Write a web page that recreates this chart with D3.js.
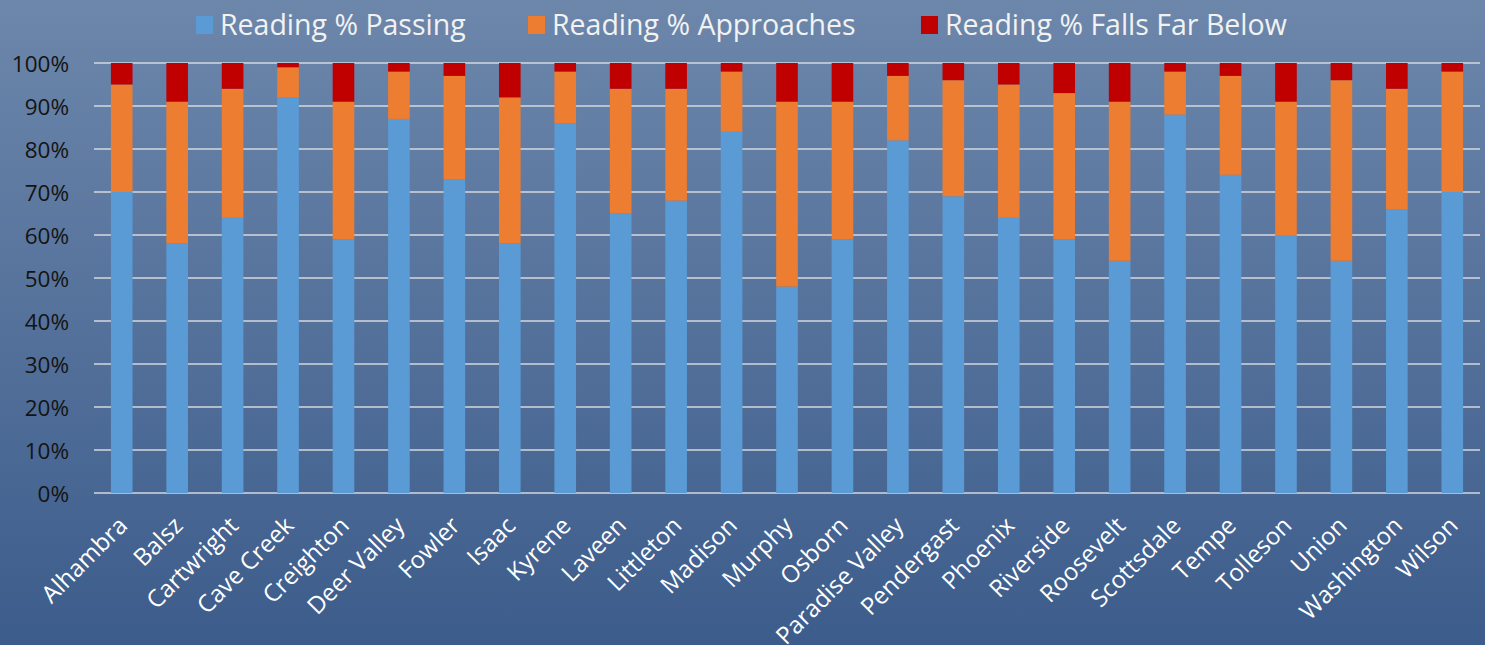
<!DOCTYPE html>
<html lang="en">
<head>
  <meta charset="UTF-8">
  <title>Reading Proficiency by District</title>
  <script src="https://d3js.org/d3.v7.min.js"></script>
  <style>
    body {
      margin: 0;
      font-family: "Open Sans", sans-serif;
    }

    svg {
      display: block;
    }

    .grid line {
      stroke: #d4d8de;
      stroke-width: 1.5px;
    }

    .axis text {
      font-family: "Open Sans", sans-serif;
    }

    .y.axis text {
      fill: #141414;
      font-size: 22.5px;
    }

    .x.axis text {
      fill: #ffffff;
      font-size: 24px;
    }

    .legend text {
      fill: #f2f2f2;
      font-size: 28.5px;
    }
  </style>
</head>
<body>
  <div id="chart"></div>
  <script>
    const districts = ["Alhambra", "Balsz", "Cartwright", "Cave Creek", "Creighton", "Deer Valley",
      "Fowler", "Isaac", "Kyrene", "Laveen", "Littleton", "Madison", "Murphy", "Osborn",
      "Paradise Valley", "Pendergast", "Phoenix", "Riverside", "Roosevelt", "Scottsdale",
      "Tempe", "Tolleson", "Union", "Washington", "Wilson"];

    const passing    = [70, 58, 64, 92, 59, 87, 73, 58, 86, 65, 68, 84, 48, 59, 82, 69, 64, 59, 54, 88, 74, 60, 54, 66, 70];
    const approaches = [25, 33, 30,  7, 32, 11, 24, 34, 12, 29, 26, 14, 43, 32, 15, 27, 31, 34, 37, 10, 23, 31, 42, 28, 28];
    const fallsBelow = [ 5,  9,  6,  1,  9,  2,  3,  8,  2,  6,  6,  2,  9,  9,  3,  4,  5,  7,  9,  2,  3,  9,  4,  6,  2];

    const seriesNames = ["Reading % Passing", "Reading % Approaches", "Reading % Falls Far Below"];
    const seriesColors = ["#5b9bd5", "#ed7d31", "#c00000"];
    const yTicks = [0, 0.1, 0.2, 0.3, 0.4, 0.5, 0.6, 0.7, 0.8, 0.9, 1];

    const width = 1485,
          height = 645,
          margin = { top: 63, right: 5, bottom: 152, left: 94 };

    const svg = d3.select("#chart")
      .append("svg")
      .attr("width", width)
      .attr("height", height);

    // background gradient
    const defs = svg.append("defs");
    const bg = defs.append("linearGradient")
      .attr("id", "bg-gradient")
      .attr("x1", "0%").attr("y1", "0%")
      .attr("x2", "0%").attr("y2", "100%");
    bg.append("stop").attr("offset", "0%").attr("stop-color", "#6d87ab");
    bg.append("stop").attr("offset", "100%").attr("stop-color", "#3c5c8b");

    svg.append("rect")
      .attr("width", width)
      .attr("height", height)
      .style("fill", "url(#bg-gradient)");

    const rows = districts.map((name, i) => ({
      name: name,
      passing: passing[i] / 100,
      approaches: approaches[i] / 100,
      falls: fallsBelow[i] / 100
    }));

    const keys = ["passing", "approaches", "falls"];
    const stacked = d3.stack().keys(keys)(rows);

    const x = d3.scaleBand()
      .domain(districts)
      .range([margin.left, width - margin.right])
      .paddingInner(0.61)
      .paddingOuter(0.305);

    const y = d3.scaleLinear()
      .domain([0, 1])
      .range([height - margin.bottom, margin.top]);

    // gridlines
    svg.append("g")
      .attr("class", "grid")
      .selectAll("line")
      .data(yTicks)
      .enter().append("line")
      .attr("x1", margin.left)
      .attr("x2", width - margin.right)
      .attr("y1", d => y(d))
      .attr("y2", d => y(d));

    // bars
    svg.append("g")
      .selectAll("g")
      .data(stacked)
      .enter().append("g")
      .style("fill", (d, i) => seriesColors[i])
      .selectAll("rect")
      .data(d => d)
      .enter().append("rect")
      .attr("x", d => x(d.data.name))
      .attr("width", x.bandwidth())
      .attr("y", d => y(d[1]))
      .attr("height", d => y(d[0]) - y(d[1]));

    // y axis labels
    const yAxis = svg.append("g")
      .attr("class", "y axis")
      .attr("transform", `translate(${margin.left}, 0)`)
      .call(d3.axisLeft(y).tickValues(yTicks).tickFormat(d3.format(".0%")).tickSize(0).tickPadding(25));
    yAxis.select(".domain").remove();
    yAxis.selectAll("text").attr("dy", "0.36em");

    // x axis labels
    const xAxis = svg.append("g")
      .attr("class", "x axis")
      .attr("transform", `translate(0, ${height - margin.bottom})`)
      .call(d3.axisBottom(x).tickSize(0));
    xAxis.select(".domain").remove();
    xAxis.selectAll("text")
      .attr("y", 0)
      .attr("dy", "0.3em")
      .attr("text-anchor", "end")
      .attr("transform", "translate(2, 29) rotate(-45)");

    // legend
    const legendX = [196, 528, 921];
    const legend = svg.append("g")
      .attr("class", "legend")
      .selectAll("g")
      .data(seriesNames)
      .enter().append("g")
      .attr("transform", (d, i) => `translate(${legendX[i]}, 16)`);

    legend.append("rect")
      .attr("width", 17)
      .attr("height", 18)
      .style("fill", (d, i) => seriesColors[i]);

    legend.append("text")
      .attr("x", 24)
      .attr("y", 19)
      .text(d => d);
  </script>
</body>
</html>
